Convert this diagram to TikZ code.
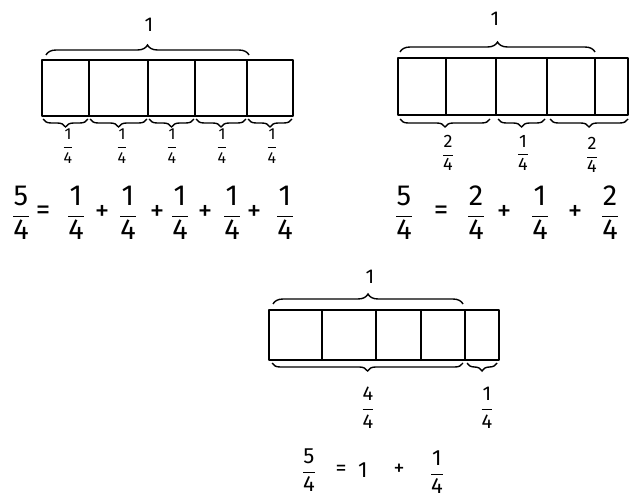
\documentclass[tikz,border=0pt]{standalone}
\usepackage{fontspec}
\setmainfont{Fira Sans}
\usetikzlibrary{decorations.pathreplacing}
\newcommand{\fr}[2]{$\displaystyle\frac{\mbox{#1}}{\mbox{#2}}$}
\tikzset{
  bar/.style={line width=2pt, line join=round},
  div/.style={line width=1.8pt},
  brup/.style={line width=1.4pt, decorate, decoration={brace, amplitude=10pt, aspect=#1}},
  brup/.default=0.5,
  brdn/.style={line width=1.4pt, decorate, decoration={brace, mirror, amplitude=8pt, aspect=#1}},
  brdn/.default=0.5,
  smallA/.style={font=\fontsize{16}{18}\selectfont, inner sep=0pt},
  smallB/.style={font=\fontsize{18}{20}\selectfont, inner sep=0pt},
  smallC/.style={font=\fontsize{20}{22}\selectfont, inner sep=0pt},
  one/.style={font=\fontsize{20}{22}\selectfont, inner sep=0pt},
  eq/.style={font=\fontsize{29}{33}\selectfont, inner sep=0pt},
  eqb/.style={font=\fontsize{22}{26}\selectfont, inner sep=0pt},
}
\begin{document}
\begin{tikzpicture}[x=1pt,y=-1pt]
\useasboundingbox (0,0) rectangle (631,500);
% ---------- top-left ----------
\draw[bar] (42,60) rectangle (293,116);
\foreach \x in {89,148,195,247} \draw[div] (\x,60) -- (\x,116);
\draw[brup] (46,55) -- (249,55);
\node[one] (tl1) at (149,25) {1};
\foreach \a/\b/\c [count=\i] in {43/88/68,90/147/122,149/194/172,196/246/222,248/292/272}{
  \draw[brdn] (\a,119) -- (\b,119);
  \node[smallA] (tlf\i) at (\c,146) {\fr{1}{4}};
}
\node[eq] (tle0) at (21,213) {\fr{5}{4}};
\node[eq] (tleq) at (43,213) {=};
\foreach \x [count=\i] in {76,128,180,232,285} \node[eq] (tlt\i) at (\x,213) {\fr{1}{4}};
\foreach \x [count=\i] in {102,157,205,254} \node[eq] (tlp\i) at (\x,213) {+};
% ---------- top-right ----------
\draw[bar] (398,58) rectangle (628,115);
\foreach \x in {446,496,547,595} \draw[div] (\x,58) -- (\x,115);
\draw[brup] (400,52) -- (595,52);
\node[one] (tr1) at (495,19) {1};
\draw[brdn] (400,119) -- (490,119);
\draw[brdn] (498,119) -- (545,119);
\draw[brdn] (550,119) -- (628,119);
\node[smallB] (trf1) at (448,153) {\fr{2}{4}};
\node[smallB] (trf2) at (523,153) {\fr{1}{4}};
\node[smallB] (trf3) at (592,155) {\fr{2}{4}};
\node[eq] (tre0) at (404,213) {\fr{5}{4}};
\node[eq] (treq) at (441,213) {=};
\node[eq] (tre1) at (476,213) {\fr{2}{4}};
\node[eq] (trp1) at (504,213) {+};
\node[eq] (tre2) at (540,213) {\fr{1}{4}};
\node[eq] (trp2) at (575,213) {+};
\node[eq] (tre3) at (610,213) {\fr{2}{4}};
% ---------- bottom ----------
\draw[bar] (269,310) rectangle (499,360);
\foreach \x in {322,376,421,465} \draw[div] (\x,310) -- (\x,360);
\draw[brup] (273,304) -- (463,304);
\node[one] (b1) at (370,277) {1};
\draw[brdn] (272,363) -- (463,363);
\draw[brdn] (467,363) -- (497,363);
\node[smallC] (bf1) at (368,408) {\fr{4}{4}};
\node[smallC] (bf2) at (487,408) {\fr{1}{4}};
\node[eqb] (be0) at (309,470) {\fr{5}{4}};
\node[eqb] (beq) at (341,470) {=};
\node[eqb] (be1) at (363,470) {1};
\node[eqb] (bep) at (399,470) {+};
\node[eqb] (be2) at (437,472) {\fr{1}{4}};
\end{tikzpicture}
\end{document}
